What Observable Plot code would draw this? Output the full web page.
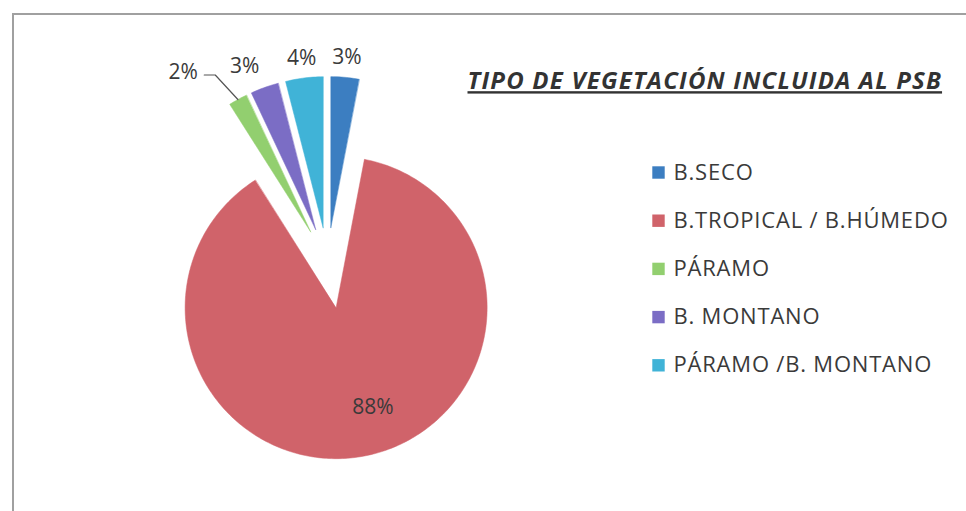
<!DOCTYPE html>
<html>
<head>
<meta charset="utf-8">
<script src="https://cdn.jsdelivr.net/npm/d3@7"></script>
<script src="https://cdn.jsdelivr.net/npm/@observablehq/plot@0.6"></script>
<style>
  html, body { margin: 0; padding: 0; background: #fff; overflow: hidden; }
  #wrap { position: relative; width: 966px; height: 511px; overflow: hidden; }
  #border { position: absolute; left: 12px; top: 13px; width: 2000px; height: 2000px;
            border-left: 2px solid #a0a0a0; border-top: 2px solid #a0a0a0; box-sizing: border-box; pointer-events: none; z-index: 2; }
  #chart { position: absolute; left: 0; top: 0; z-index: 1; }
</style>
</head>
<body>
<div id="wrap"><div id="border"></div><div id="chart"></div></div>
<script>
// ---- data ----
const categories = ["B.SECO", "B.TROPICAL / B.HÚMEDO", "PÁRAMO", "B. MONTANO", "PÁRAMO /B. MONTANO"];
const values = [3, 88, 2, 3, 4];
const labels = ["3%", "88%", "2%", "3%", "4%"];
const colors = ["#3c7ec1", "#d0636a", "#92cf6f", "#7b6dc5", "#40b3d7"];
const title = "TIPO DE VEGETACIÓN INCLUIDA AL PSB";

// ---- layout ----
const W = 966, H = 511;
const cx = 327, cy = 262, R = 151;
const explodeSmall = 35, explodeBig = 46;
const font = "'Open Sans', sans-serif";
const leaderCat = "PÁRAMO";
const labelNudge = {"PÁRAMO": [-45, -10], "B. MONTANO": [-13, -2]};

const total = d3.sum(values);
let acc = 0;
const slices = categories.map((c, i) => {
  const a0 = acc / total * 2 * Math.PI;
  acc += values[i];
  const a1 = acc / total * 2 * Math.PI;
  const mid = (a0 + a1) / 2;
  const e = values[i] / total > 0.5 ? explodeBig : explodeSmall;
  const vx = cx + e * Math.sin(mid), vy = cy - e * Math.cos(mid);
  return {c, i, a0, a1, mid, vx, vy, value: values[i], label: labels[i]};
});

const poly = [];
for (const s of slices) {
  poly.push({c: s.c, x: s.vx, y: s.vy});
  const n = Math.max(4, Math.ceil((s.a1 - s.a0) / (Math.PI / 180)));
  for (let k = 0; k <= n; k++) {
    const a = s.a0 + (s.a1 - s.a0) * k / n;
    poly.push({c: s.c, x: s.vx + R * Math.sin(a), y: s.vy - R * Math.cos(a)});
  }
}

// percentage labels
const lab = slices.map(s => {
  if (s.value / total > 0.5) {
    const r = 0.7 * R;
    return {t: s.label, x: s.vx + r * Math.sin(s.mid) + 17, y: s.vy - r * Math.cos(s.mid) - 4};
  }
  const r = R + 20;
  let x = s.vx + r * Math.sin(s.mid), y = s.vy - r * Math.cos(s.mid);
  const nd = labelNudge[s.c];
  if (nd) { x += nd[0]; y += nd[1]; }
  return {t: s.label, x, y, c: s.c};
});
const leaderSlice = slices.find(s => s.c === leaderCat);
const leaderLab = lab.find(l => l.c === leaderCat);
const leader = [
  {x: leaderLab.x + 21, y: leaderLab.y + 3},
  {x: leaderLab.x + 32, y: leaderLab.y + 3},
  {x: leaderSlice.vx + R * Math.sin(leaderSlice.mid), y: leaderSlice.vy - R * Math.cos(leaderSlice.mid)}
];

// legend
const legend = categories.map((c, i) => ({c, x: 658, y: 172 + i * 48.2}));

const plot = Plot.plot({
  width: W, height: H, margin: 0,
  x: {domain: [0, W], range: [0, W], axis: null},
  y: {domain: [0, H], range: [0, H], axis: null},
  color: {domain: categories, range: colors},
  style: {background: "transparent", fontFamily: font},
  marks: [
    Plot.line(poly, {x: "x", y: "y", z: "c", fill: "c", stroke: "c", strokeWidth: 0.5, curve: "linear-closed"}),
    Plot.line(leader, {x: "x", y: "y", stroke: "#555", strokeWidth: 1.2}),
    Plot.text(lab, {x: "x", y: "y", text: "t", fontSize: 21, fill: "#3a3a3a", fontFamily: font}),
    Plot.dot(legend, {x: "x", y: "y", symbol: "square", r: 7, fill: "c"}),
    Plot.text(legend, {x: d => d.x + 15, y: "y", text: "c", textAnchor: "start", fontSize: 22, fill: "#3a3a3a", fontFamily: font}),
    Plot.text([title], {x: 467, y: 81, text: d => d, textAnchor: "start", fontSize: 24, fontWeight: "bold", fontStyle: "italic", fill: "#333", fontFamily: font})
  ]
});
plot.querySelectorAll("text").forEach(t => {
  if (t.textContent === title) { t.style.textDecoration = "underline"; t.style.letterSpacing = "1.2px"; }
  else if (categories.includes(t.textContent)) { t.style.letterSpacing = "0.8px"; }
});
document.getElementById("chart").appendChild(plot);
</script>
</body>
</html>
